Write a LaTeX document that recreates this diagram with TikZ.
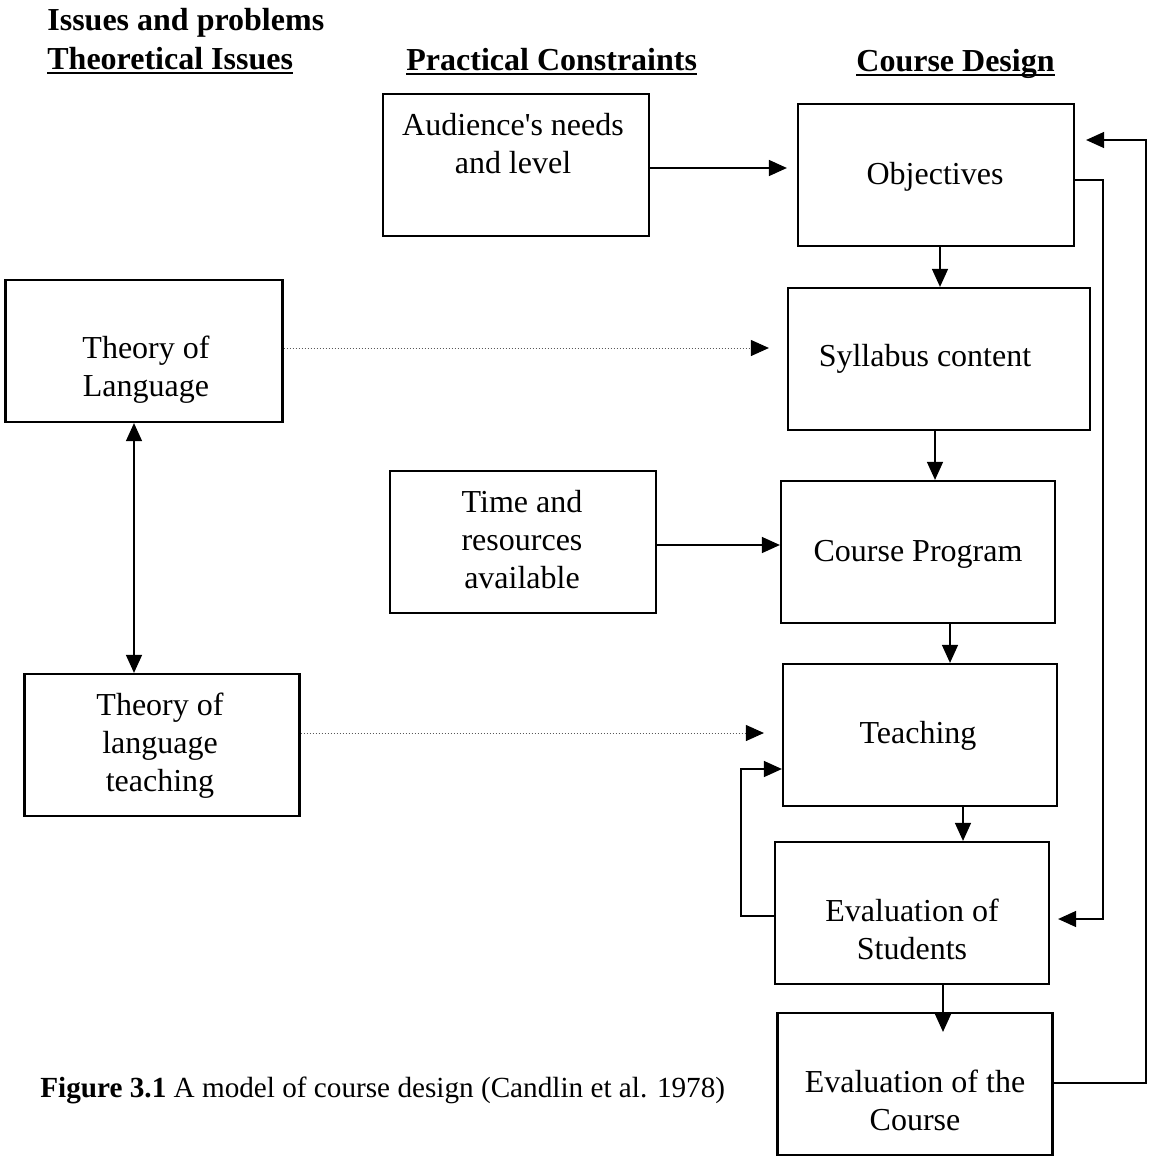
\documentclass[tikz,border=0pt]{standalone}
\usepackage{fontspec}
\setmainfont{Liberation Serif}[Ligatures=TeXOff]
\usetikzlibrary{arrows.meta}
\begin{document}
\begin{tikzpicture}[x=0.5pt,y=-0.5pt,
  box/.style={draw, line width=1.1pt, minimum width=#1, minimum height=71pt, inner sep=0pt},
  txt/.style={align=center, inner sep=0pt, font=\fontsize{16}{19}\selectfont},
  head/.style={anchor=west, inner sep=0pt, font=\fontsize{16}{19}\selectfont\bfseries},
  arr/.style={-{Triangle[length=9pt,width=8pt]}, line width=0.7pt},
  dotarr/.style={-{Triangle[length=9pt,width=8pt,color=black]}, line width=0.5pt, densely dotted, gray!70!black},
  uline/.style={line width=1pt}]
\useasboundingbox (0,0) rectangle (1155,1156);

% headings
\node[head] (hiss) at (47,23) {Issues and problems};
\node[head] (hthe) at (47,59) {Theoretical Issues};
\node[head] (hpra) at (406,60) {Practical Constraints};
\node[head] (hcou) at (856,64) {Course Design};
\draw[uline] (hthe.west |- 0,73) -- (hthe.east |- 0,73);
\draw[uline] (hpra.west |- 0,74) -- (hpra.east |- 0,74);
\draw[uline] (hcou.west |- 0,75) -- (hcou.east |- 0,75);

% boxes
\node[box=133pt] (aud) at (516,165) {};
\node[box=138pt] (obj) at (936,175) {};
\node[box=151pt] (syl) at (939,359) {};
\node[box=133pt] (time) at (523,542) {};
\node[box=137pt] (prog) at (918,552) {};
\node[box=137pt] (teach) at (920,735) {};
\node[box=137pt] (evs) at (912,913) {};
\node[box=137.5pt] (evc) at (915,1084) {};
\node[box=138.5pt] (tl) at (144,351) {};
\node[box=137.5pt] (tlt) at (162,745) {};

% box texts
\node[txt] at (513,144) {Audience's needs\\and level};
\node[txt] at (935,177) {Objectives};
\node[txt] at (925,359) {Syllabus content};
\node[txt] at (522,540) {Time and\\resources\\available};
\node[txt] at (918,554) {Course Program};
\node[txt] at (918,736) {Teaching};
\node[txt] at (912,929) {Evaluation of\\Students};
\node[txt] at (915,1100) {Evaluation of the\\Course};
\node[txt] at (146,370) {Theory of\\Language};
\node[txt] at (160,746) {Theory of\\language\\teaching};

% caption
\node[anchor=west, inner sep=0pt, font=\fontsize{14.6}{18}\selectfont] (cap) at (40,1090)
  {\textbf{Figure 3.1} A model of course design (Candlin et al. 1978)};

% main flow
\draw[arr, shorten >=5pt] (aud.east |- 0,168) -- (obj.west |- 0,168);
\draw[arr] (obj.south -| 940,0) -- (syl.north -| 940,0);
\draw[arr] (syl.south -| 935,0) -- (prog.north -| 935,0);
\draw[arr] (time.east |- 0,545) -- (prog.west |- 0,545);
\draw[arr] (prog.south -| 950,0) -- (teach.north -| 950,0);
\draw[arr] (teach.south -| 963,0) -- (evs.north -| 963,0);
\draw[arr, shorten >=-10pt] (evs.south -| 943,0) -- (evc.north -| 943,0);

% feedback loops
\draw[arr] (evs.west |- 0,916) -- (741,916) -- (741,769) -- (teach.west |- 0,769);
\draw[arr, shorten >=4pt] (obj.east |- 0,180) -- (1103,180) -- (1103,919) -- (evs.east |- 0,919);
\draw[arr, shorten >=5.5pt] (evc.east |- 0,1083) -- (1146,1083) -- (1146,140) -- (obj.east |- 0,140);

% theory links
\draw[{Triangle[length=9pt,width=8pt]}-{Triangle[length=9pt,width=8pt]}, line width=0.7pt]
  (tl.south -| 134,0) -- (tlt.north -| 134,0);
\draw[dotarr, shorten >=9pt] (tl.east |- 0,348) -- (syl.west |- 0,348);
\draw[dotarr, shorten >=9pt] (tlt.east |- 0,733) -- (teach.west |- 0,733);
\end{tikzpicture}
\end{document}
